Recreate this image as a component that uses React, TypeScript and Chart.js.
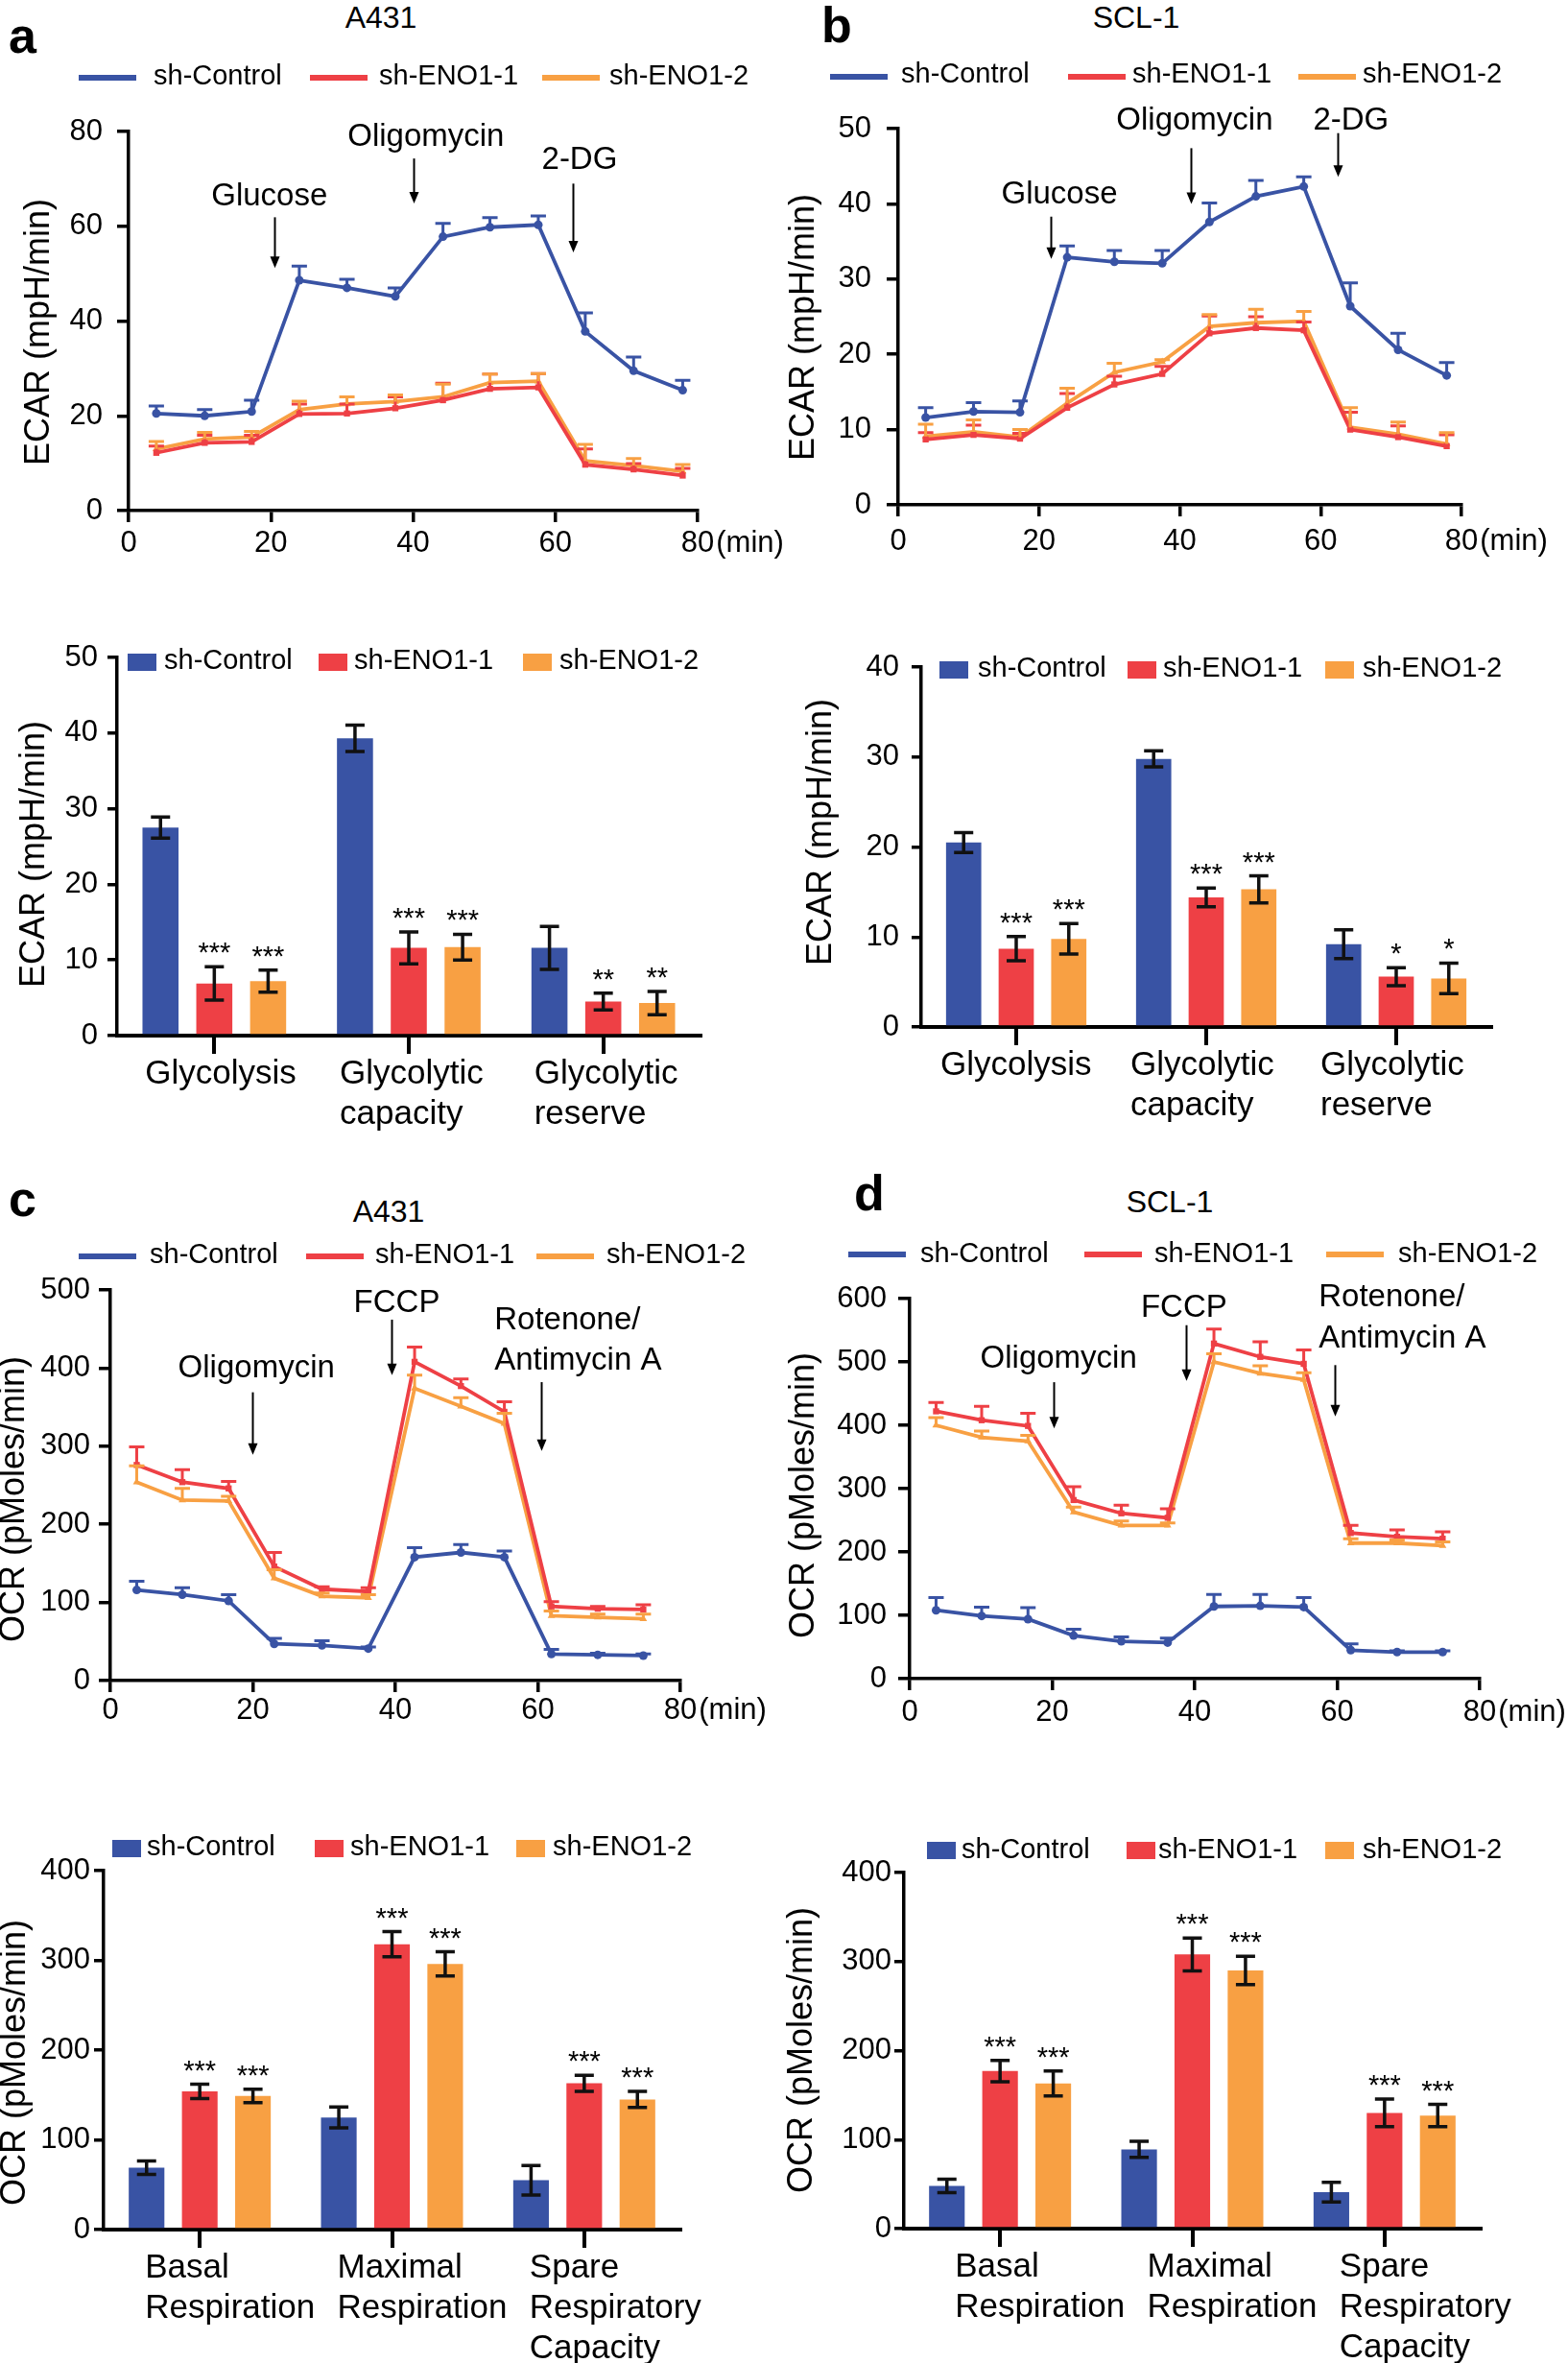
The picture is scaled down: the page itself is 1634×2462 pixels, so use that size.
import React, { useEffect, useRef } from "react";
import { Chart, registerables } from "chart.js";

Chart.register(...registerables);

const FONT = "'Liberation Sans', Arial, Helvetica, sans-serif";

// ---------------- shared series ----------------
const seriesNames = ["sh-Control", "sh-ENO1-1", "sh-ENO1-2"];
const seriesColors = ["#3953A4", "#EE4045", "#F8A043"];
const pointStyles = ["circle", "rect", "triangle"];

// ---------------- a: ECAR time course, A431 ----------------
const ecarTimes = [3.9, 10.7, 17.3, 24.0, 30.7, 37.5, 44.2, 50.8, 57.6, 64.2, 71.0, 77.9];
const ecarTicksX = [0, 20, 40, 60, 80];
const ecarA431Control = [20.5, 20.0, 20.9, 48.6, 47.0, 45.2, 57.8, 59.8, 60.3, 37.8, 29.5, 25.4];
const ecarA431ControlErr = [1.6, 1.3, 2.4, 3.0, 1.8, 1.8, 2.8, 2.0, 1.9, 3.9, 2.9, 2.1];
const ecarA431Eno1 = [12.2, 14.3, 14.5, 20.4, 20.5, 21.6, 23.3, 25.7, 26.0, 9.7, 8.7, 7.4];
const ecarA431Eno1Err = [1.4, 1.6, 1.4, 2.1, 2.0, 2.4, 3.6, 3.1, 2.9, 3.3, 1.2, 1.5];
const ecarA431Eno2 = [13.0, 15.1, 15.5, 21.3, 22.5, 23.0, 24.0, 27.0, 27.3, 10.5, 9.5, 8.3];
const ecarA431Eno2Err = [1.6, 1.4, 1.2, 1.8, 1.5, 1.4, 2.7, 1.8, 1.6, 3.5, 1.5, 1.4];
const ecarA431Injections = [
  { text: ["Glucose"], tx: 19.8, ty: [66.2], align: "center", ax: 20.5, from: 61.9, to: 51.2 },
  { text: ["Oligomycin"], tx: 41.8, ty: [78.9], align: "center", ax: 40.1, from: 74.3, to: 64.8 },
  { text: ["2-DG"], tx: 63.4, ty: [73.9], align: "center", ax: 62.5, from: 69.0, to: 54.5 },
];

// ---------------- b: ECAR time course, SCL-1 ----------------
const ecarScl1Control = [11.6, 12.4, 12.3, 32.9, 32.3, 32.1, 37.6, 41.0, 42.3, 26.4, 20.6, 17.2];
const ecarScl1ControlErr = [1.3, 1.2, 1.5, 1.5, 1.5, 1.7, 2.5, 2.1, 1.3, 3.1, 2.2, 1.7];
const ecarScl1Eno1 = [8.7, 9.3, 8.8, 12.9, 16.0, 17.4, 22.8, 23.5, 23.2, 10.0, 9.0, 7.8];
const ecarScl1Eno1Err = [0.9, 1.3, 0.7, 1.9, 1.1, 1.0, 2.3, 1.5, 1.1, 2.3, 1.5, 1.5];
const ecarScl1Eno2 = [9.1, 9.7, 9.0, 13.5, 17.6, 19.0, 23.7, 24.2, 24.4, 10.3, 9.4, 8.1];
const ecarScl1Eno2Err = [1.6, 1.6, 1.0, 2.0, 1.2, 0.3, 1.6, 1.8, 1.3, 2.6, 1.6, 1.5];
const ecarScl1Injections = [
  { text: ["Glucose"], tx: 22.9, ty: [41.2], align: "center", ax: 21.7, from: 38.3, to: 32.7 },
  { text: ["Oligomycin"], tx: 42.1, ty: [51.0], align: "center", ax: 41.6, from: 47.4, to: 40.0 },
  { text: ["2-DG"], tx: 64.3, ty: [51.0], align: "center", ax: 62.4, from: 49.4, to: 43.6 },
];

// ---------------- a/b: ECAR bar summaries ----------------
const ecarCategories = [["Glycolysis"], ["Glycolytic", "capacity"], ["Glycolytic", "reserve"]];
const ecarA431BarControl = [27.5, 39.3, 11.6];
const ecarA431BarControlErr = [1.4, 1.75, 2.85];
const ecarA431BarEno1 = [6.9, 11.6, 4.5];
const ecarA431BarEno1Err = [2.2, 2.1, 1.1];
const ecarA431BarEno2 = [7.2, 11.7, 4.3];
const ecarA431BarEno2Err = [1.45, 1.7, 1.55];
const ecarA431Stars = [["", "", ""], ["***", "***", "**"], ["***", "***", "**"]];

const ecarScl1BarControl = [20.5, 29.8, 9.2];
const ecarScl1BarControlErr = [1.1, 0.9, 1.6];
const ecarScl1BarEno1 = [8.7, 14.4, 5.6];
const ecarScl1BarEno1Err = [1.35, 1.05, 1.0];
const ecarScl1BarEno2 = [9.8, 15.3, 5.4];
const ecarScl1BarEno2Err = [1.7, 1.5, 1.7];
const ecarScl1Stars = [["", "", ""], ["***", "***", "*"], ["***", "***", "*"]];

// ---------------- c: OCR time course, A431 ----------------
const ocrTimes = [3.7, 10.1, 16.6, 23.0, 29.7, 36.2, 42.7, 49.2, 55.3, 61.9, 68.4, 74.8];
const ocrA431Control = [116, 110, 102, 47, 45, 41, 158, 164, 158, 34, 33, 32];
const ocrA431ControlErr = [11, 9, 8, 7, 6, 2, 12, 10, 8, 6, 2, 2];
const ocrA431Eno1 = [276, 254, 246, 146, 117, 114, 408, 377, 344, 95, 92, 91];
const ocrA431Eno1Err = [23, 16, 9, 18, 3, 5, 19, 9, 13, 6, 3, 6];
const ocrA431Eno2 = [254, 231, 230, 131, 108, 106, 374, 351, 329, 83, 81, 79];
const ocrA431Eno2Err = [21, 15, 6, 11, 4, 4, 17, 11, 13, 6, 4, 6];
const ocrA431Injections = [
  { text: ["Oligomycin"], tx: 20.5, ty: [399], align: "center", ax: 19.9, from: 369, to: 289 },
  { text: ["FCCP"], tx: 40.2, ty: [483], align: "center", ax: 39.5, from: 462, to: 391 },
  { text: ["Rotenone/", "Antimycin A"], tx: 53.9, ty: [461, 409], align: "left", ax: 60.5, from: 382, to: 294 },
];

// ---------------- d: OCR time course, SCL-1 ----------------
const ocrScl1Control = [108, 99, 94, 68, 59, 57, 114, 115, 113, 45, 42, 42];
const ocrScl1ControlErr = [20, 14, 18, 10, 7, 7, 19, 18, 15, 10, 2, 2];
const ocrScl1Eno1 = [422, 408, 399, 282, 261, 254, 529, 508, 497, 230, 224, 221];
const ocrScl1Eno1Err = [14, 22, 20, 21, 13, 14, 23, 24, 22, 12, 11, 11];
const ocrScl1Eno2 = [400, 381, 375, 263, 242, 242, 500, 482, 472, 214, 214, 210];
const ocrScl1Eno2Err = [12, 10, 9, 8, 7, 4, 13, 12, 11, 7, 5, 6];
const ocrScl1Injections = [
  { text: ["Oligomycin"], tx: 20.9, ty: [505], align: "center", ax: 20.2, from: 468, to: 395 },
  { text: ["FCCP"], tx: 38.5, ty: [585], align: "center", ax: 38.8, from: 558, to: 470 },
  { text: ["Rotenone/", "Antimycin A"], tx: 57.4, ty: [602, 536], align: "left", ax: 59.7, from: 495, to: 414 },
];

// ---------------- c/d: OCR bar summaries ----------------
const ocrCategories = [["Basal", "Respiration"], ["Maximal", "Respiration"], ["Spare", "Respiratory", "Capacity"]];
const ocrA431BarControl = [69, 125, 55];
const ocrA431BarControlErr = [7.5, 11.5, 16.5];
const ocrA431BarEno1 = [154, 318, 163];
const ocrA431BarEno1Err = [8, 14, 9];
const ocrA431BarEno2 = [149, 296, 145];
const ocrA431BarEno2Err = [7.5, 13.5, 9];
const ocrStars = [["", "", ""], ["***", "***", "***"], ["***", "***", "***"]];

const ocrScl1BarControl = [48, 89, 41];
const ocrScl1BarControlErr = [7.5, 9, 11];
const ocrScl1BarEno1 = [177, 308, 130];
const ocrScl1BarEno1Err = [12, 18.5, 15.5];
const ocrScl1BarEno2 = [163, 290, 127];
const ocrScl1BarEno2Err = [14, 16, 12.5];

// ---------------- layout (page pixels) ----------------
const TICK_FONT = 31;
const ANNOT_FONT = 33;
const YTITLE_FONT = 36;
const CAT_FONT = 35;
const STAR_FONT = 29;
const LEGEND_FONT = 29;

type Box = { left: number; top: number; width: number; height: number };
type Plot = { x0: number; x1: number; y0: number; y1: number };

const lineSpecs = [
  {
    key: "lineA", box: { left: 0, top: 90, width: 817, height: 530 }, plot: { x0: 134, x1: 727, y0: 137, y1: 532 },
    yMax: 80, yStep: 20, times: ecarTimes,
    values: [ecarA431Control, ecarA431Eno1, ecarA431Eno2], errs: [ecarA431ControlErr, ecarA431Eno1Err, ecarA431Eno2Err],
    yTitle: "ECAR (mpH/min)", yTitlePos: [41, 346], yTickPad: 15, xTickPad: 4, injections: ecarA431Injections,
  },
  {
    key: "lineB", box: { left: 790, top: 90, width: 844, height: 530 }, plot: { x0: 936, x1: 1523, y0: 134, y1: 526 },
    yMax: 50, yStep: 10, times: ecarTimes,
    values: [ecarScl1Control, ecarScl1Eno1, ecarScl1Eno2], errs: [ecarScl1ControlErr, ecarScl1Eno1Err, ecarScl1Eno2Err],
    yTitle: "ECAR (mpH/min)", yTitlePos: [838, 341], yTickPad: 16, xTickPad: 8, injections: ecarScl1Injections,
  },
  {
    key: "lineC", box: { left: 0, top: 1305, width: 817, height: 530 }, plot: { x0: 115, x1: 709, y0: 1344, y1: 1751 },
    yMax: 500, yStep: 100, times: ocrTimes,
    values: [ocrA431Control, ocrA431Eno1, ocrA431Eno2], errs: [ocrA431ControlErr, ocrA431Eno1Err, ocrA431Eno2Err],
    yTitle: "OCR (pMoles/min)", yTitlePos: [15, 1562], yTickPad: 9, xTickPad: 1, injections: ocrA431Injections,
  },
  {
    key: "lineD", box: { left: 790, top: 1305, width: 844, height: 530 }, plot: { x0: 948, x1: 1542, y0: 1353, y1: 1749 },
    yMax: 600, yStep: 100, times: ocrTimes,
    values: [ocrScl1Control, ocrScl1Eno1, ocrScl1Eno2], errs: [ocrScl1ControlErr, ocrScl1Eno1Err, ocrScl1Eno2Err],
    yTitle: "OCR (pMoles/min)", yTitlePos: [838, 1558], yTickPad: 12, xTickPad: 5, injections: ocrScl1Injections,
  },
];

const barSpecs = [
  {
    key: "barA", box: { left: 0, top: 640, width: 817, height: 560 }, plot: { x0: 122, x1: 730, y0: 685, y1: 1079 },
    yMax: 50, yStep: 10, categories: ecarCategories,
    values: [ecarA431BarControl, ecarA431BarEno1, ecarA431BarEno2],
    errs: [ecarA431BarControlErr, ecarA431BarEno1Err, ecarA431BarEno2Err], stars: ecarA431Stars,
    yTitle: "ECAR (mpH/min)", yTitlePos: [36, 890], yTickPad: 10, labelDX: -72,
  },
  {
    key: "barB", box: { left: 817, top: 640, width: 817, height: 560 }, plot: { x0: 960, x1: 1554, y0: 695, y1: 1070 },
    yMax: 40, yStep: 10, categories: ecarCategories,
    values: [ecarScl1BarControl, ecarScl1BarEno1, ecarScl1BarEno2],
    errs: [ecarScl1BarControlErr, ecarScl1BarEno1Err, ecarScl1BarEno2Err], stars: ecarScl1Stars,
    yTitle: "ECAR (mpH/min)", yTitlePos: [856, 867], yTickPad: 13, labelDX: -79,
  },
  {
    key: "barC", box: { left: 0, top: 1870, width: 817, height: 592 }, plot: { x0: 108, x1: 709, y0: 1949, y1: 2323 },
    yMax: 400, yStep: 100, categories: ocrCategories,
    values: [ocrA431BarControl, ocrA431BarEno1, ocrA431BarEno2],
    errs: [ocrA431BarControlErr, ocrA431BarEno1Err, ocrA431BarEno2Err], stars: ocrStars,
    yTitle: "OCR (pMoles/min)", yTitlePos: [16, 2149], yTickPad: 4, labelDX: -57,
  },
  {
    key: "barD", box: { left: 817, top: 1870, width: 817, height: 592 }, plot: { x0: 942, x1: 1543, y0: 1951, y1: 2322 },
    yMax: 400, yStep: 100, categories: ocrCategories,
    values: [ocrScl1BarControl, ocrScl1BarEno1, ocrScl1BarEno2],
    errs: [ocrScl1BarControlErr, ocrScl1BarEno1Err, ocrScl1BarEno2Err], stars: ocrStars,
    yTitle: "OCR (pMoles/min)", yTitlePos: [836, 2136], yTickPad: 3, labelDX: -47,
  },
];

const lineLegends = [
  { base: 89, symY: 81, sym: [82, 323, 565], txt: [160, 395, 635] },
  { base: 87, symY: 80, sym: [865, 1113, 1353], txt: [939, 1180, 1420] },
  { base: 1317, symY: 1309, sym: [82, 319, 559], txt: [156, 391, 632] },
  { base: 1316, symY: 1307, sym: [884, 1130, 1382], txt: [959, 1203, 1457] },
];
const barLegends = [
  { base: 698, boxTop: 681, sym: [133, 332, 545], txt: [171, 369, 583] },
  { base: 706, boxTop: 689, sym: [979, 1175, 1381], txt: [1019, 1212, 1420] },
  { base: 1934, boxTop: 1917, sym: [117, 328, 538], txt: [153, 365, 576] },
  { base: 1937, boxTop: 1919, sym: [966, 1174, 1381], txt: [1002, 1207, 1420] },
];
const panelLetters = [
  { text: "a", x: 9, base: 55 },
  { text: "b", x: 856, base: 44 },
  { text: "c", x: 9, base: 1267 },
  { text: "d", x: 890, base: 1261 },
];
const panelTitles = [
  { text: "A431", x: 397, base: 29 },
  { text: "SCL-1", x: 1184, base: 29 },
  { text: "A431", x: 405, base: 1273 },
  { text: "SCL-1", x: 1219, base: 1263 },
];

// ---------------- helpers ----------------
function drawYTitle(ctx: CanvasRenderingContext2D, box: Box, text: string, pos: number[]) {
  ctx.save();
  ctx.translate(pos[0] - box.left, pos[1] - box.top);
  ctx.rotate(-Math.PI / 2);
  ctx.font = `${YTITLE_FONT}px ${FONT}`;
  ctx.fillStyle = "#000";
  ctx.textAlign = "center";
  ctx.textBaseline = "middle";
  ctx.fillText(text, 0, 0);
  ctx.restore();
}

function makeLineOverlay(spec: any) {
  return {
    id: "lineOverlay",
    afterDatasetsDraw(chart: any) {
      const ctx = chart.ctx as CanvasRenderingContext2D;
      const ys = chart.scales.y;
      chart.data.datasets.forEach((_ds: any, i: number) => {
        const meta = chart.getDatasetMeta(i);
        ctx.save();
        ctx.strokeStyle = seriesColors[i];
        ctx.lineWidth = 3;
        meta.data.forEach((pt: any, j: number) => {
          const yt = ys.getPixelForValue(spec.values[i][j] + spec.errs[i][j]);
          ctx.beginPath();
          ctx.moveTo(pt.x, pt.y);
          ctx.lineTo(pt.x, yt);
          ctx.moveTo(pt.x - 8, yt);
          ctx.lineTo(pt.x + 8, yt);
          ctx.stroke();
        });
        ctx.restore();
      });
    },
    afterDraw(chart: any) {
      const ctx = chart.ctx as CanvasRenderingContext2D;
      const xs = chart.scales.x;
      const ys = chart.scales.y;
      ctx.save();
      ctx.fillStyle = "#000";
      ctx.strokeStyle = "#000";
      ctx.font = `${ANNOT_FONT}px ${FONT}`;
      ctx.textBaseline = "middle";
      for (const a of spec.injections) {
        ctx.textAlign = a.align;
        const tx = xs.getPixelForValue(a.tx);
        a.text.forEach((t: string, k: number) => ctx.fillText(t, tx, ys.getPixelForValue(a.ty[k])));
        const ax = Math.round(xs.getPixelForValue(a.ax)) + 0.5;
        const y0 = ys.getPixelForValue(a.from);
        const y1 = ys.getPixelForValue(a.to);
        ctx.lineWidth = 2;
        ctx.beginPath();
        ctx.moveTo(ax, y0);
        ctx.lineTo(ax, y1 - 8);
        ctx.stroke();
        ctx.beginPath();
        ctx.moveTo(ax - 5, y1 - 12);
        ctx.lineTo(ax + 5, y1 - 12);
        ctx.lineTo(ax, y1);
        ctx.closePath();
        ctx.fill();
      }
      ctx.font = `${TICK_FONT}px ${FONT}`;
      const lastVal = ecarTicksX[ecarTicksX.length - 1];
      const lastPx = xs.getPixelForValue(lastVal);
      const w = ctx.measureText(String(lastVal)).width;
      ctx.textAlign = "left";
      ctx.textBaseline = "middle";
      ctx.fillText("(min)", lastPx + w / 2 + 2, xs.top + 12 + spec.xTickPad + (TICK_FONT * 1.2) / 2);
      ctx.restore();
      drawYTitle(ctx, spec.box, spec.yTitle, spec.yTitlePos);
    },
  };
}

function makeBarOverlay(spec: any) {
  return {
    id: "barOverlay",
    afterDatasetsDraw(chart: any) {
      const ctx = chart.ctx as CanvasRenderingContext2D;
      const ys = chart.scales.y;
      ctx.save();
      chart.data.datasets.forEach((_ds: any, i: number) => {
        const meta = chart.getDatasetMeta(i);
        meta.data.forEach((bar: any, j: number) => {
          const v = spec.values[i][j];
          const e = spec.errs[i][j];
          const yt = ys.getPixelForValue(v + e);
          const yb = ys.getPixelForValue(v - e);
          ctx.strokeStyle = "#111";
          ctx.lineWidth = 3.5;
          ctx.beginPath();
          ctx.moveTo(bar.x, yb);
          ctx.lineTo(bar.x, yt);
          ctx.moveTo(bar.x - 10, yt);
          ctx.lineTo(bar.x + 10, yt);
          ctx.moveTo(bar.x - 10, yb);
          ctx.lineTo(bar.x + 10, yb);
          ctx.stroke();
          const s = spec.stars[i][j];
          if (s) {
            ctx.fillStyle = "#000";
            ctx.font = `${STAR_FONT}px ${FONT}`;
            ctx.textAlign = "center";
            ctx.textBaseline = "alphabetic";
            ctx.fillText(s, bar.x, yt - 5);
          }
        });
      });
      ctx.restore();
    },
    afterDraw(chart: any) {
      const ctx = chart.ctx as CanvasRenderingContext2D;
      const xs = chart.scales.x;
      ctx.save();
      ctx.fillStyle = "#000";
      ctx.font = `${CAT_FONT}px ${FONT}`;
      ctx.textAlign = "left";
      ctx.textBaseline = "middle";
      (chart.data.labels as string[][]).forEach((lines, j) => {
        const px = xs.getPixelForTick(j) + spec.labelDX;
        lines.forEach((ln, k) => ctx.fillText(ln, px, xs.top + 40 + 42 * k));
      });
      ctx.restore();
      drawYTitle(ctx, spec.box, spec.yTitle, spec.yTitlePos);
    },
  };
}

function yScale(spec: any) {
  return {
    type: "linear",
    min: 0,
    max: spec.yMax,
    ticks: { stepSize: spec.yStep, font: { family: FONT, size: TICK_FONT }, color: "#000", padding: spec.yTickPad },
    grid: { display: true, drawOnChartArea: false, drawTicks: true, tickLength: 12, color: "#000", lineWidth: 3.5 },
    border: { display: true, color: "#000", width: 3.5 },
    afterFit: (s: any) => {
      s.width = spec.plot.x0 - spec.box.left;
    },
  };
}

function padding(box: Box, plot: Plot, xAxisH: number) {
  return {
    left: 0,
    top: plot.y0 - box.top,
    right: box.left + box.width - plot.x1,
    bottom: box.top + box.height - plot.y1 - xAxisH,
  };
}

function lineConfig(spec: any): any {
  const xAxisH = 60;
  return {
    type: "line",
    data: {
      datasets: spec.values.map((vals: number[], i: number) => ({
        label: seriesNames[i],
        data: vals.map((v, j) => ({ x: spec.times[j], y: v })),
        borderColor: seriesColors[i],
        backgroundColor: seriesColors[i],
        borderWidth: 3.8,
        pointRadius: 4.5,
        pointStyle: pointStyles[i],
        pointBorderWidth: 0,
        tension: 0,
      })),
    },
    options: {
      animation: false,
      responsive: false,
      events: [],
      layout: { padding: padding(spec.box, spec.plot, xAxisH) },
      plugins: { legend: { display: false }, tooltip: { enabled: false }, title: { display: false } },
      scales: {
        x: {
          type: "linear",
          min: ecarTicksX[0],
          max: ecarTicksX[ecarTicksX.length - 1],
          ticks: { stepSize: 20, font: { family: FONT, size: TICK_FONT }, color: "#000", padding: spec.xTickPad, maxRotation: 0 },
          grid: { display: true, drawOnChartArea: false, drawTicks: true, tickLength: 12, color: "#000", lineWidth: 3.5 },
          border: { display: true, color: "#000", width: 3.5 },
          afterFit: (s: any) => {
            s.height = xAxisH;
          },
        },
        y: yScale(spec),
      },
    },
    plugins: [makeLineOverlay(spec)],
  };
}

function barConfig(spec: any): any {
  const xAxisH = 100;
  return {
    type: "bar",
    data: {
      labels: spec.categories,
      datasets: spec.values.map((vals: number[], i: number) => ({
        label: seriesNames[i],
        data: vals,
        backgroundColor: seriesColors[i],
        borderWidth: 0,
        barPercentage: 0.67,
        categoryPercentage: 0.83,
      })),
    },
    options: {
      animation: false,
      responsive: false,
      events: [],
      layout: { padding: padding(spec.box, spec.plot, xAxisH) },
      plugins: { legend: { display: false }, tooltip: { enabled: false }, title: { display: false } },
      scales: {
        x: {
          type: "category",
          offset: true,
          ticks: { display: false },
          grid: { display: true, offset: false, drawOnChartArea: false, drawTicks: true, tickLength: 19, color: "#000", lineWidth: 4 },
          border: { display: true, color: "#000", width: 4 },
          afterFit: (s: any) => {
            s.height = xAxisH;
          },
        },
        y: { ...yScale(spec), grid: { display: true, drawOnChartArea: false, drawTicks: true, tickLength: 10, color: "#000", lineWidth: 3.5 } },
      },
    },
    plugins: [makeBarOverlay(spec)],
  };
}

function ChartCanvas({ box, build }: { box: Box; build: () => any }) {
  const ref = useRef<HTMLCanvasElement>(null);
  useEffect(() => {
    const chart = new Chart(ref.current as HTMLCanvasElement, build());
    return () => chart.destroy();
  }, []);
  return (
    <canvas
      ref={ref}
      width={box.width}
      height={box.height}
      style={{ position: "absolute", left: box.left, top: box.top, width: box.width, height: box.height }}
    />
  );
}

function Txt({ x, base, size, text, center = false, bold = false }: any) {
  return (
    <div
      style={{
        position: "absolute",
        left: x,
        top: base - 0.8465 * size,
        fontSize: size,
        lineHeight: `${size}px`,
        fontFamily: FONT,
        fontWeight: bold ? 700 : 400,
        whiteSpace: "nowrap",
        color: "#000",
        transform: center ? "translateX(-50%)" : undefined,
      }}
    >
      {text}
    </div>
  );
}

export default function App() {
  return (
    <div style={{ position: "absolute", left: 0, top: 0, width: 1634, height: 2462, background: "#fff", overflow: "hidden" }}>
      {lineSpecs.map((s) => (
        <ChartCanvas key={s.key} box={s.box} build={() => lineConfig(s)} />
      ))}
      {barSpecs.map((s) => (
        <ChartCanvas key={s.key} box={s.box} build={() => barConfig(s)} />
      ))}
      {panelLetters.map((p, i) => (
        <Txt key={"l" + i} x={p.x} base={p.base} size={52} text={p.text} bold />
      ))}
      {panelTitles.map((p, i) => (
        <Txt key={"t" + i} x={p.x} base={p.base} size={32} text={p.text} center />
      ))}
      {lineLegends.map((lg, k) =>
        seriesNames.map((name, i) => (
          <React.Fragment key={`ll${k}-${i}`}>
            <div style={{ position: "absolute", left: lg.sym[i], top: lg.symY - 3, width: 60, height: 6, background: seriesColors[i] }} />
            <Txt x={lg.txt[i]} base={lg.base} size={LEGEND_FONT} text={name} />
          </React.Fragment>
        ))
      )}
      {barLegends.map((lg, k) =>
        seriesNames.map((name, i) => (
          <React.Fragment key={`bl${k}-${i}`}>
            <div style={{ position: "absolute", left: lg.sym[i], top: lg.boxTop, width: 30, height: 18, background: seriesColors[i] }} />
            <Txt x={lg.txt[i]} base={lg.base} size={LEGEND_FONT} text={name} />
          </React.Fragment>
        ))
      )}
    </div>
  );
}
